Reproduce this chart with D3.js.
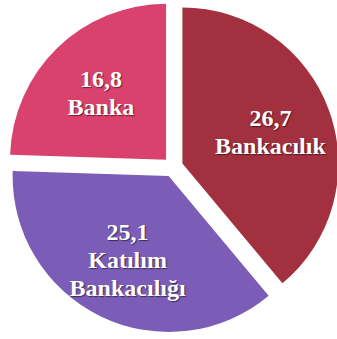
<!DOCTYPE html>
<html>
<head>
<meta charset="utf-8">
<script src="https://cdnjs.cloudflare.com/ajax/libs/d3/7.8.5/d3.min.js"></script>
<style>
  body { margin: 0; background: #fff; }
</style>
</head>
<body>
<svg id="pie"></svg>
<script>
// data
var categories = ["Bankacılık", "Katılım Bankacılığı", "Banka"];
var values = [26.7, 25.1, 16.8];
var labelLines = [["26,7", "Bankacılık"], ["25,1", "Katılım", "Bankacılığı"], ["16,8", "Banka"]];
var colors = ["#a3303f", "#7b5cb6", "#d8426c"];

// basic settings
var width = 337;
var height = 339;
var radius = 156;
var explode = 10;
var cx = 173, cy = 167;

var data = categories.map(function(c, i) {
    return { Attribute: c, Value: values[i], lines: labelLines[i] };
});

var color = d3.scaleOrdinal().domain(categories).range(colors);

var pie = d3.pie()
            .sort(null)
            .value(function(d) { return d.Value; });

var arc = d3.arc().innerRadius(0).outerRadius(radius);
// centroid of this one sits at 0.6 * radius
var labelArc = d3.arc().innerRadius(0).outerRadius(radius * 0.6 * 2);

var svg = d3.select("#pie")
            .attr("width", width)
            .attr("height", height)
            .append("g")
            .attr("transform", "translate(" + cx + "," + cy + ")");

function offset(d, dist) {
    var a = (d.startAngle + d.endAngle) / 2;
    return [Math.sin(a) * dist, -Math.cos(a) * dist];
}

var g = svg.selectAll(".arc")
    .data(pie(data))
    .enter().append("g")
    .attr("class", "arc")
    .attr("transform", function(d) {
        var o = offset(d, explode);
        return "translate(" + o[0] + "," + o[1] + ")";
    });

g.append("path")
    .attr("d", arc)
    .style("fill", function(d) { return color(d.data.Attribute); });

// labels, centered on the slice
var lineH = 28;
g.append("text")
    .attr("text-anchor", "middle")
    .attr("fill", "#fff")
    .style("font-family", "'Liberation Serif', 'Times New Roman', serif")
    .style("font-weight", "bold")
    .style("font-size", "24px")
    .style("text-shadow", "1px 1px 1px rgba(0,0,0,0.5)")
    .attr("transform", function(d) {
        var c = labelArc.centroid(d);
        return "translate(" + c[0] + "," + c[1] + ")";
    })
    .each(function(d) {
        var n = d.data.lines.length;
        d3.select(this).selectAll("tspan")
            .data(d.data.lines)
            .enter().append("tspan")
            .attr("x", 0)
            .attr("y", function(t, i) { return (i - (n - 1) / 2) * lineH + 8; })
            .text(function(t) { return t; });
    });
</script>
</body>
</html>
